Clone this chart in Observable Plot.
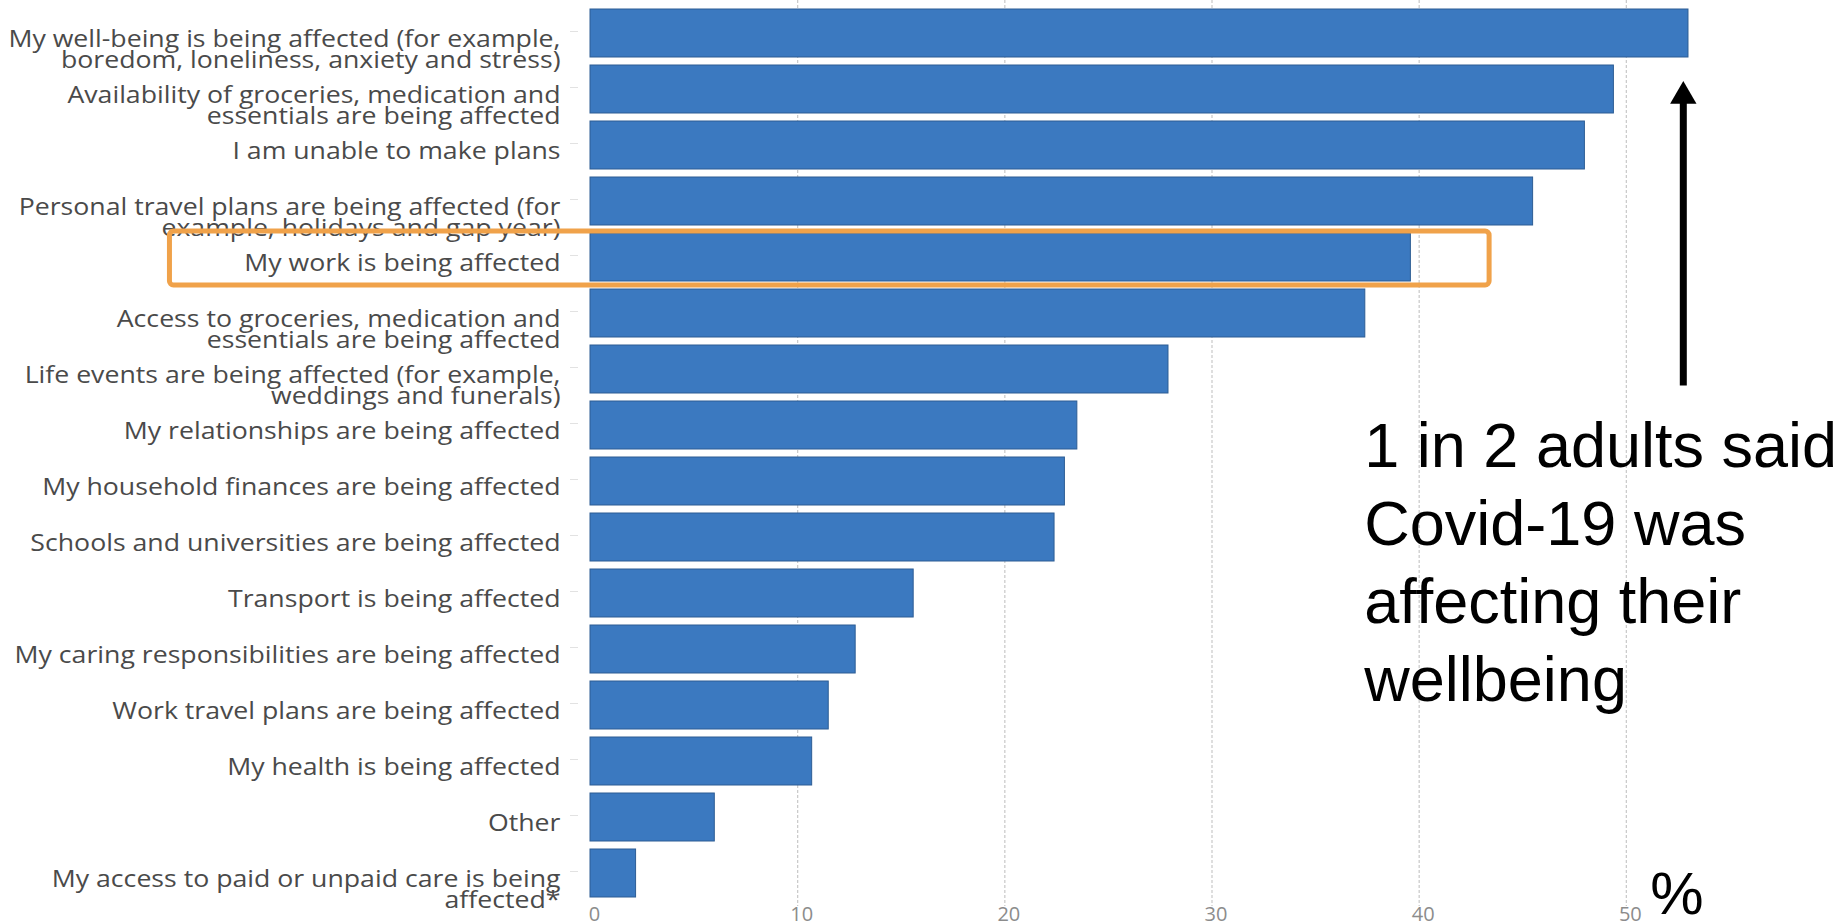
<!DOCTYPE html>
<html>
<head>
<meta charset="utf-8">
<script src="https://cdn.jsdelivr.net/npm/d3@7"></script>
<script src="https://cdn.jsdelivr.net/npm/@observablehq/plot@0.6"></script>
<style>
  html, body { margin: 0; padding: 0; background: #ffffff; }
  #chart { width: 1848px; height: 922px; overflow: hidden; }
</style>
</head>
<body>
<div id="chart"></div>
<script>
// ---- Data ----
const categories = [
  "My well-being is being affected (for example, boredom, loneliness, anxiety and stress)",
  "Availability of groceries, medication and essentials are being affected",
  "I am unable to make plans",
  "Personal travel plans are being affected (for example, holidays and gap year)",
  "My work is being affected",
  "Access to groceries, medication and essentials are being affected",
  "Life events are being affected (for example, weddings and funerals)",
  "My relationships are being affected",
  "My household finances are being affected",
  "Schools and universities are being affected",
  "Transport is being affected",
  "My caring responsibilities are being affected",
  "Work travel plans are being affected",
  "My health is being affected",
  "Other",
  "My access to paid or unpaid care is being affected*"
];
const categoryLabels = [
  "My well-being is being affected (for example,\nboredom, loneliness, anxiety and stress)",
  "Availability of groceries, medication and\nessentials are being affected",
  "I am unable to make plans",
  "Personal travel plans are being affected (for\nexample, holidays and gap year)",
  "My work is being affected",
  "Access to groceries, medication and\nessentials are being affected",
  "Life events are being affected (for example,\nweddings and funerals)",
  "My relationships are being affected",
  "My household finances are being affected",
  "Schools and universities are being affected",
  "Transport is being affected",
  "My caring responsibilities are being affected",
  "Work travel plans are being affected",
  "My health is being affected",
  "Other",
  "My access to paid or unpaid care is being\naffected*"
];
const values = [53.0, 49.4, 48.0, 45.5, 39.6, 37.4, 27.9, 23.5, 22.9, 22.4, 15.6, 12.8, 11.5, 10.7, 6.0, 2.2];
const xTicks = [0, 10, 20, 30, 40, 50];
const gridTicks = [10, 20, 30, 40, 50];
const unitLabel = ["%"];
const highlightCategory = ["My work is being affected"];
const highlightFrom = [-20.3];
const highlightTo = [43.4];
const annotationText = ["1 in 2 adults said\nCovid-19 was\naffecting their\nwellbeing"];
const arrowX = [52.75];

// ---- Build tables ----
const data = categories.map((c, i) => ({category: c, value: values[i]}));
const labelOf = new Map(categories.map((c, i) => [c, categoryLabels[i]]));
const highlight = highlightCategory.map((c, i) => ({category: c, from: highlightFrom[i], to: highlightTo[i]}));
const arrowData = arrowX.map(x => ({x, from: categories[7], to: categories[0]}));

const chart = Plot.plot({
  width: 1848,
  height: 922,
  marginLeft: 590,
  marginRight: 15,
  marginTop: 0,
  marginBottom: 16,
  style: {fontFamily: "'Open Sans', sans-serif", background: "#ffffff", overflow: "visible"},
  x: {domain: [0, 60], axis: null},
  y: {domain: categories, padding: 0.14, axis: null},
  marks: [
    Plot.gridX(gridTicks, {stroke: "#c8c8c8", strokeOpacity: 1, strokeWidth: 1.2, strokeDasharray: "3,2"}),
    Plot.barX(data, {x: "value", y: "category", fill: "#3b79c0", stroke: "#2d5d94", strokeWidth: 1}),
    Plot.axisX(xTicks, {
      anchor: "bottom", tickSize: 0, tickPadding: 0, dx: 4, fontSize: 20, fill: "#8c8c8c",
      tickFormat: d => String(d)
    }),
    Plot.axisY({
      anchor: "left", tickSize: 8, tickPadding: 10, dx: -12, stroke: "#e2e2e2",
      fontSize: 23, lineHeight: 0.93, lineAnchor: "top", dy: -2, fill: "#4a4a4a",
      tickFormat: d => labelOf.get(d)
    }),
    Plot.barX(highlight, {
      x1: "from", x2: "to", y: "category", fill: "none",
      stroke: "#f0a24a", strokeWidth: 5, rx: 4, insetTop: -2, insetBottom: -4
    }),
    Plot.arrow(arrowData, {
      x1: "x", x2: "x", y1: "from", y2: "to", stroke: "#000", strokeWidth: 7,
      headLength: 0, insetStart: 40, insetEnd: 66, strokeLinecap: "butt"
    }),
    Plot.dot(arrowData, {
      x: "x", y: "to", symbol: "triangle", r: 9.8, fill: "#000", stroke: "none", dy: 62.7
    }),
    Plot.text(annotationText, {
      x: 37.35, frameAnchor: "top", dy: 411.6, textAnchor: "start", lineAnchor: "top",
      fontSize: 63, lineHeight: 1.235, fill: "#000",
      fontFamily: "'Liberation Sans', Arial, sans-serif"
    }),
    Plot.text(unitLabel, {
      x: 50, frameAnchor: "bottom", dx: 24, dy: -35, textAnchor: "start", lineAnchor: "top",
      fontSize: 60, fill: "#000", fontFamily: "'Liberation Sans', Arial, sans-serif"
    })
  ]
});

// The scanned reference shows the category labels horizontally widened; stretch them about their anchor.
d3.select(chart).selectAll('g[aria-label="y-axis tick label"] text').each(function () {
  const t = this.getAttribute("transform");
  if (t) {
    this.setAttribute("transform", t + " scale(1.16,1)");
  } else {
    const x = this.getAttribute("x") || 0, y = this.getAttribute("y") || 0;
    this.removeAttribute("x"); this.removeAttribute("y");
    this.setAttribute("transform", `translate(${x},${y}) scale(1.16,1)`);
  }
});

document.getElementById("chart").appendChild(chart);
</script>
</body>
</html>
